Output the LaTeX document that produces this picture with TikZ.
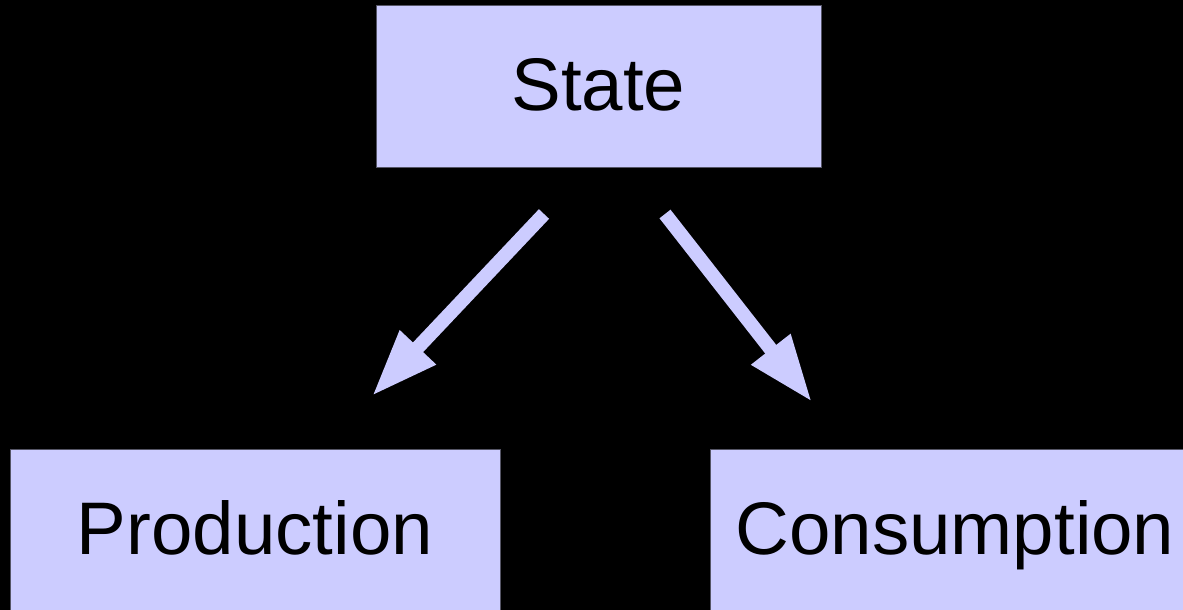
\documentclass[tikz,border=0pt]{standalone}
\usepackage{fontspec}
\setmainfont{Liberation Sans}
\usetikzlibrary{arrows.meta}
\definecolor{lav}{HTML}{CCCCFF}
\definecolor{edge}{HTML}{555566}
\tikzset{
  box/.style={fill=lav, draw=edge, line width=0.6pt, inner sep=0pt,
    minimum width=445pt, minimum height=162pt,
    text height=48.5pt, text depth=0pt,
    font=\fontsize{74.5pt}{82pt}\selectfont},
  bigbox/.style={box, minimum width=490pt},
  flow/.style={draw=lav, line width=14pt,
    -{Triangle[length=67pt, width=46pt]}}
}
\begin{document}
\begin{tikzpicture}[x=1pt, y=-1pt]
\fill[black] (0,0) rectangle (1183,610);
\useasboundingbox (0,0) rectangle (1183,610);
\clip (0,0) rectangle (1183,610);
\node[box] (state) at (598.3,86.5) {State};
\node[bigbox] (prod) at (255,530) {Production};
\node[bigbox] (cons) at (955,530) {Consumption};
\coordinate (s1) at (544,214);
\coordinate (p1) at (372,396);
\coordinate (s2) at (665,214);
\coordinate (c1) at (812,402);
\draw[flow] (s1) -- (p1);
\draw[flow] (s2) -- (c1);
\end{tikzpicture}
\end{document}
